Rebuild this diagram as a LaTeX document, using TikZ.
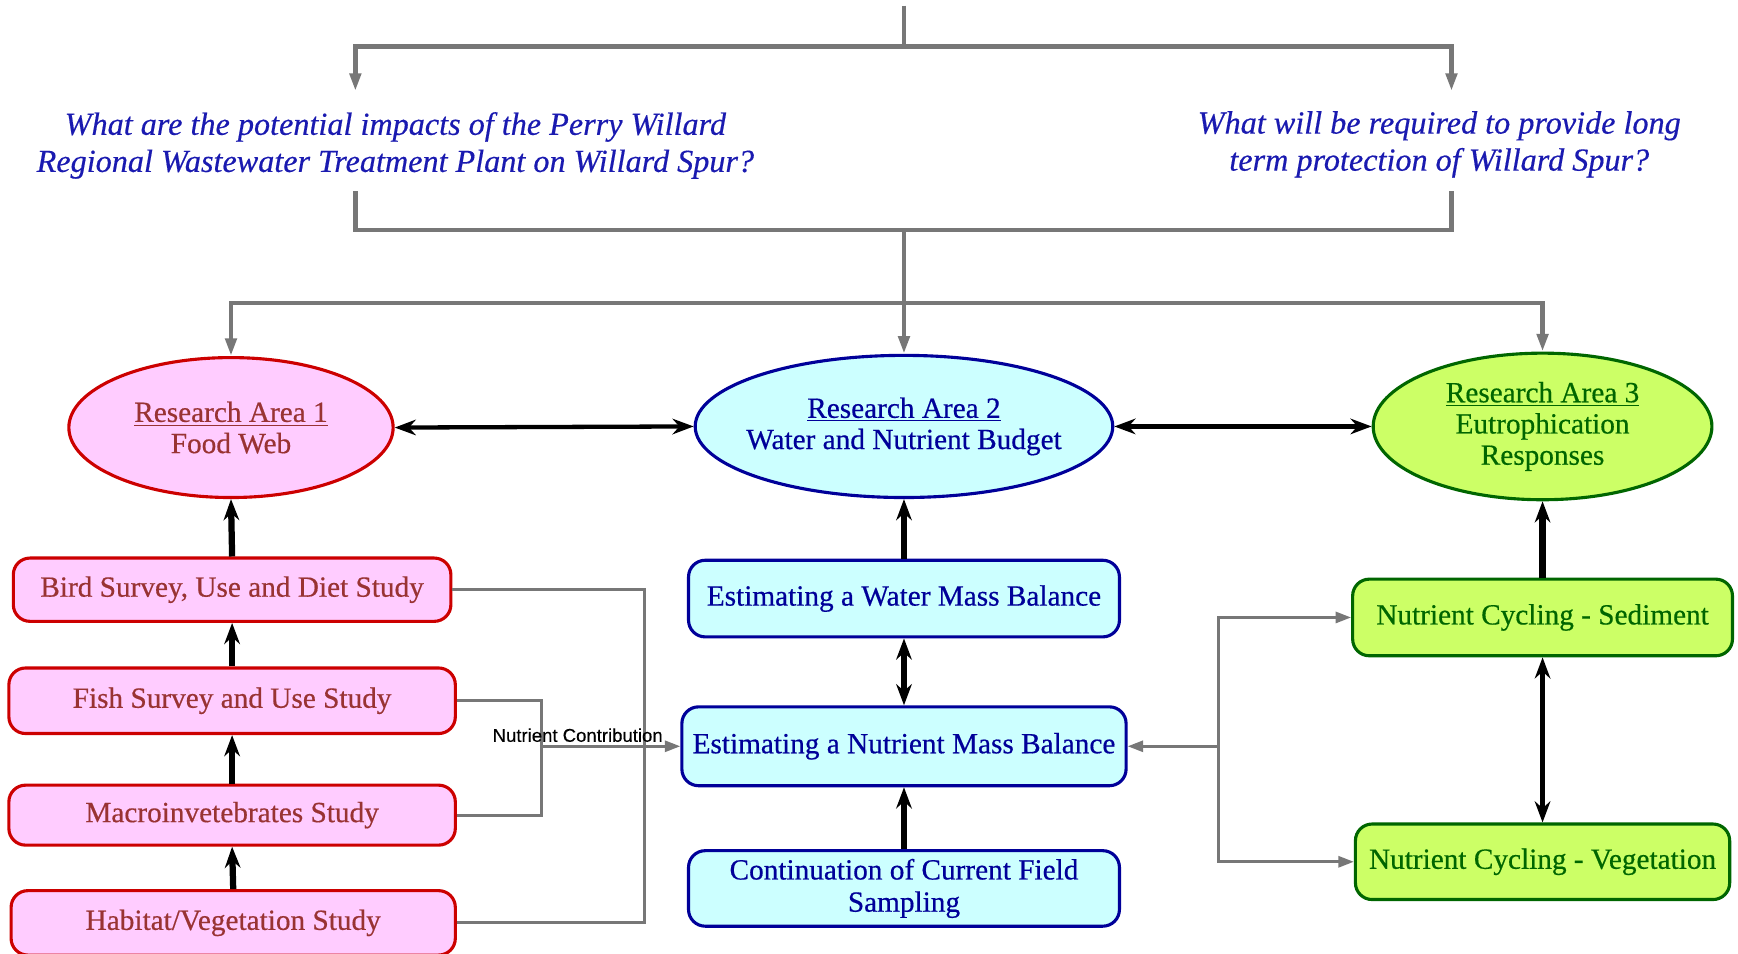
\documentclass[tikz,border=0pt]{standalone}
\usepackage{fontspec}
\setmainfont{Liberation Serif}
\newfontfamily\boxfont{Liberation Serif}[FakeBold=0.5]
\newfontfamily\askfont{Liberation Serif}[FakeBold=0.4]
\newfontfamily\notefont{Liberation Sans}[FakeBold=0.3]
\usepackage{xcolor}
\usetikzlibrary{arrows, arrows.meta}
\usetikzlibrary{shapes.geometric}

\definecolor{foodfill}{HTML}{FFCCFF}
\definecolor{foodline}{HTML}{CC0000}
\definecolor{foodtext}{HTML}{993333}
\definecolor{budgfill}{HTML}{CCFFFF}
\definecolor{budgline}{HTML}{000099}
\definecolor{eutrofill}{HTML}{CCFF66}
\definecolor{eutroline}{HTML}{006600}
\definecolor{qtext}{HTML}{1A1AB0}
\definecolor{feedgray}{HTML}{777777}

\begin{document}
\begin{tikzpicture}[x=0.2mm, y=-0.2mm,
    area/.style={ellipse, line width=1.6pt, inner sep=0pt, align=center, font=\boxfont\fontsize{15}{16}\selectfont},
    study/.style={rectangle, rounded corners=3mm, line width=1.6pt, inner sep=0pt, align=center, font=\boxfont\fontsize{15}{16.5}\selectfont},
    food/.style={draw=foodline, fill=foodfill, text=foodtext},
    budget/.style={draw=budgline, fill=budgfill, text=budgline},
    eutro/.style={draw=eutroline, fill=eutrofill, text=eutroline},
    question/.style={align=center, text=qtext, font=\askfont\fontsize{16.5}{19}\selectfont\itshape},
    feed/.style={draw=feedgray, line width=2.3pt},
    feedin/.style={feed, -{Triangle[length=3.2mm, width=2mm]}},
    link/.style={line width=3.2pt, -{Stealth[length=3.8mm, width=2.8mm]}},
    twoway/.style={line width=3pt, {Stealth[length=3.8mm, width=2.8mm]}-{Stealth[length=3.8mm, width=2.8mm]}},
    share/.style={draw=feedgray, line width=1.4pt},
    sharein/.style={share, -{Triangle[length=2.8mm, width=2mm]}},
    note/.style={font=\notefont\fontsize{9.5}{11}\selectfont, inner sep=1.5pt}
  ]
    \useasboundingbox (0,0) rectangle (1565,859);

    % questions
    \node[question] (q1) at (356,131) {What are the potential impacts of the Perry Willard\\Regional Wastewater Treatment Plant on Willard Spur?};
    \node[question] (q2) at (1296,130) {What will be required to provide long\\term protection of Willard Spur?};

    % research areas
    \node[area, food, minimum width=58.4mm, minimum height=25.2mm] (ra1) at (208,385) {\underline{Research Area 1}\\Food Web};
    \node[area, budget, inner xsep=-2mm, minimum width=75.2mm, minimum height=25.6mm] (ra2) at (814,384) {\underline{Research Area 2}\\Water and Nutrient Budget};
    \node[area, eutro, minimum width=61mm, minimum height=26.4mm] (ra3) at (1389,384) {\underline{Research Area 3}\\Eutrophication\\Responses};

    % studies
    \node[study, food, minimum width=78.8mm, minimum height=11.4mm] (bird) at (209,531) {Bird Survey, Use and Diet Study};
    \node[study, food, minimum width=80.4mm, minimum height=11.8mm] (fish) at (209,631) {Fish Survey and Use Study};
    \node[study, food, minimum width=80.4mm, minimum height=10.8mm] (macro) at (209,734) {Macroinvetebrates Study};
    \node[study, food, minimum width=80mm, minimum height=11.6mm] (habitat) at (210,831) {Habitat/Vegetation Study};

    \node[study, budget, minimum width=77.6mm, minimum height=13.8mm] (water) at (814,539) {Estimating a Water Mass Balance};
    \node[study, budget, minimum width=80mm, minimum height=14.2mm] (nutrient) at (814,672) {Estimating a Nutrient Mass Balance};
    \node[study, budget, minimum width=77.6mm, minimum height=13.6mm] (field) at (814,800) {Continuation of Current Field\\Sampling};

    \node[study, eutro, minimum width=68.4mm, minimum height=13.8mm] (sediment) at (1389,556) {Nutrient Cycling - Sediment};
    \node[study, eutro, minimum width=67.4mm, minimum height=13.6mm] (vegetation) at (1389,776) {Nutrient Cycling - Vegetation};

    % gray tree at the top
    \coordinate (top) at (814,5);
    \coordinate (split) at (814,42);
    \coordinate (q1in) at (320,82);
    \coordinate (q2in) at (1307,82);
    \coordinate (q1out) at (320,172);
    \coordinate (q2out) at (1307,172);
    \coordinate (join) at (814,207);
    \coordinate (hub) at (814,273);

    \draw[feed] (top) -- (split);
    \draw[feedin] (split) -| (q1in);
    \draw[feedin] (split) -| (q2in);
    \draw[feed] (q1out) |- (join);
    \draw[feed] (q2out) |- (join);
    \draw[feedin] (join) -- (ra2.north);
    \draw[feedin] (hub) -| (ra1.north);
    \draw[feedin] (hub) -| (ra3.north);

    % black links
    \draw[twoway, line width=2.2pt] (ra1.east) -- (ra2.west);
    \draw[twoway, line width=2.6pt] (ra2.east) -- (ra3.west);
    \draw[link] (bird.north) -- (ra1.south);
    \draw[link] (fish.north) -- (bird.south);
    \draw[link] (macro.north) -- (fish.south);
    \draw[link] (habitat.north) -- (macro.south);
    \draw[link] (water.north) -- (ra2.south);
    \draw[twoway] (water.south) -- (nutrient.north);
    \draw[link] (field.north) -- (nutrient.south);
    \draw[link] (sediment.north) -- (ra3.south);
    \draw[twoway] (sediment.south) -- (vegetation.north);

    % nutrient contribution
    \coordinate (nc) at (486,672);
    \coordinate (fork) at (1097,672);
    \draw[share] (bird.east) -- ++(173,0) |- (habitat.east);
    \draw[share] (fish.east) -- ++(76,0) |- (macro.east);
    \draw[sharein] (nc) -- (nutrient.west) node[note, above, pos=0.27] (ncl) {Nutrient Contribution};
    \draw[sharein] (fork) -- (nutrient.east);
    \draw[sharein] (fork) |- (sediment.west);
    \draw[sharein] (fork) |- (vegetation.west);
\end{tikzpicture}
\end{document}
